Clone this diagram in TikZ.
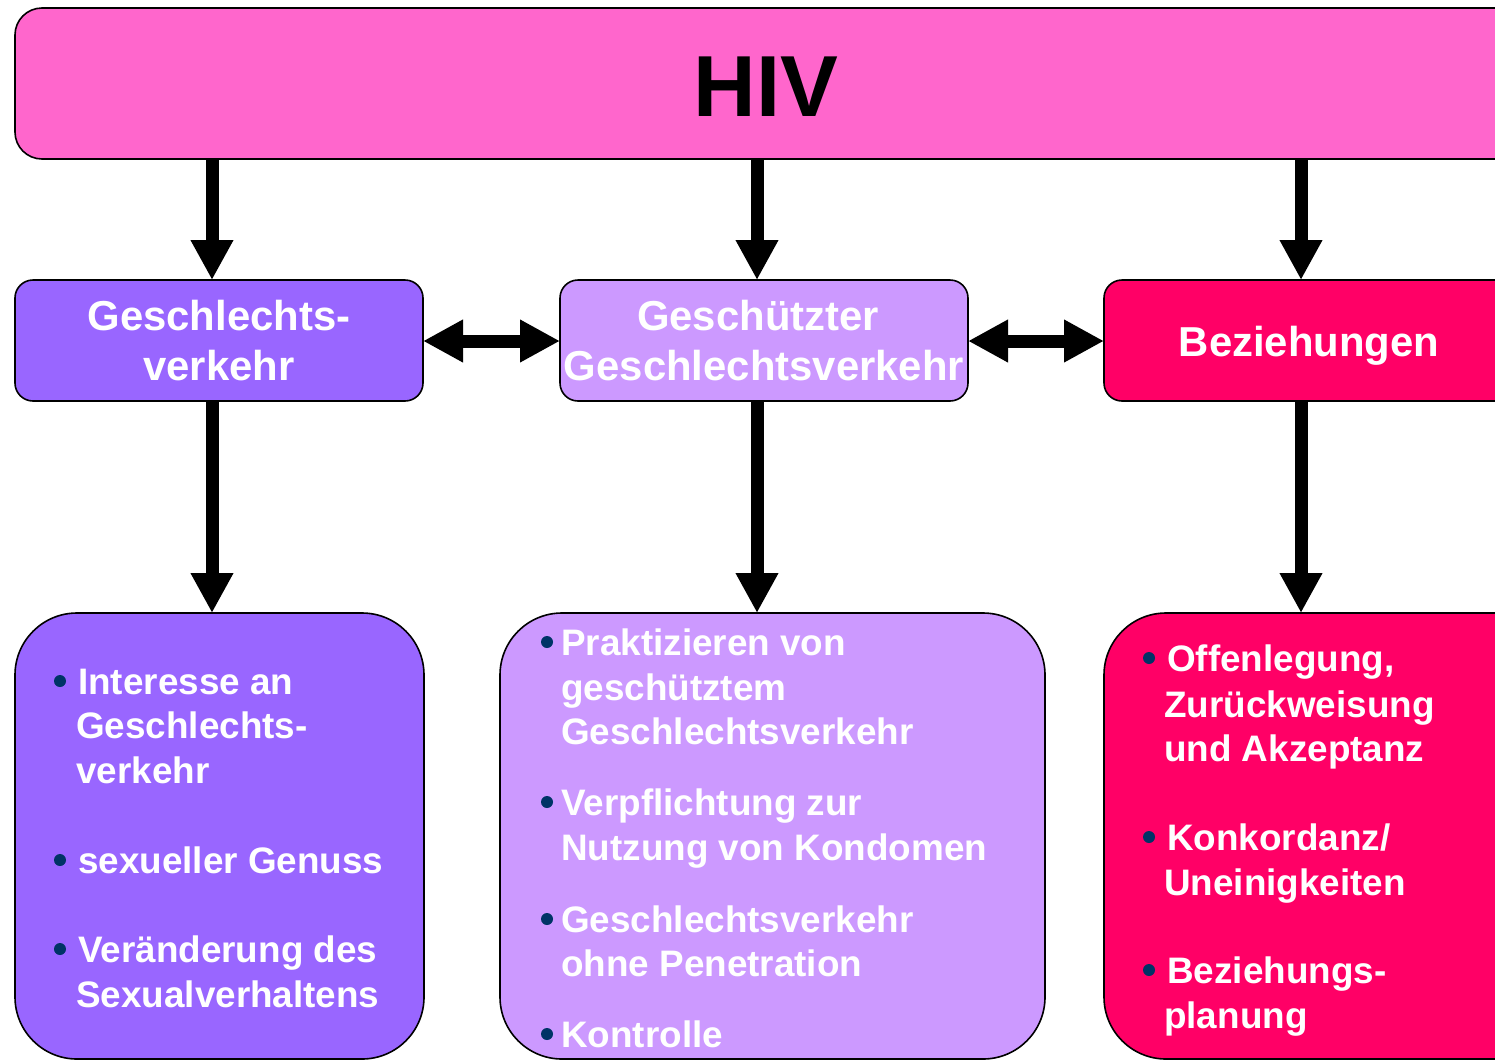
\documentclass[tikz,border=0pt]{standalone}
\usepackage{fontspec}
\setmainfont{Liberation Sans}
\usetikzlibrary{arrows.meta}
\definecolor{hivpink}{HTML}{FF66CC}
\definecolor{violet1}{HTML}{9966FF}
\definecolor{lilac}{HTML}{CC99FF}
\definecolor{rosered}{HTML}{FF0066}
\definecolor{bulletblue}{HTML}{003366}
\tikzset{
  boxframe/.style={draw=black, line width=1.6bp},
  flowarrow/.style={line width=13bp, -{Triangle[length=40bp,width=40bp]}},
  duoarrow/.style={line width=13bp, {Triangle[length=40bp,width=40bp]}-{Triangle[length=40bp,width=40bp]}},
  headtext/.style={text=white, font=\bfseries\fontsize{42}{50}\selectfont, align=center, inner sep=0pt},
  itemtext/.style={text=white, font=\bfseries\fontsize{37}{44.5}\selectfont, anchor=base west, inner sep=0pt},
  dotmark/.style={circle, fill=bulletblue, inner sep=0pt, minimum size=12bp},
}
\begin{document}
\begin{tikzpicture}[x=1bp,y=-1bp]
\useasboundingbox (0,0) rectangle (1495,1060);
\clip (0,0) rectangle (1495,1060);
% top box
\draw[boxframe, fill=hivpink, rounded corners=27bp] (15,8) rectangle (1560,159);
\node[font=\bfseries\fontsize{87}{90}\selectfont, anchor=base, inner sep=0pt] (hiv) at (766,116) {HIV};
\coordinate (hivA) at (212,159);
\coordinate (hivB) at (757,159);
\coordinate (hivC) at (1301,159);
% middle row
\draw[boxframe, fill=violet1, rounded corners=18bp] (15,280) rectangle (423,401);
\draw[boxframe, fill=lilac, rounded corners=18bp] (560,280) rectangle (968,401);
\draw[boxframe, fill=rosered, rounded corners=18bp] (1104,280) rectangle (1560,401);
\coordinate (m1t) at (212,280); \coordinate (m1b) at (212,401); \coordinate (m1r) at (423,341);
\coordinate (m2t) at (757,280); \coordinate (m2b) at (757,401); \coordinate (m2l) at (560,341); \coordinate (m2r) at (968,341);
\coordinate (m3t) at (1301,280); \coordinate (m3b) at (1301,401); \coordinate (m3l) at (1104,341);
\node[headtext, anchor=base] (t1a) at (219,330) {Geschlechts-};
\node[headtext, anchor=base] (t1b) at (219,380) {verkehr};
\node[headtext, anchor=base] (t2a) at (758,330) {Geschützter};
\node[headtext, anchor=base] (t2b) at (764,380) {Geschlechtsverkehr};
\node[headtext, anchor=base] (t3) at (1309,356) {Beziehungen};
% bottom row
\draw[boxframe, fill=violet1, rounded corners=62bp] (15,613) rectangle (424,1059);
\draw[boxframe, fill=lilac, rounded corners=62bp] (500,613) rectangle (1045,1059);
\draw[boxframe, fill=rosered, rounded corners=62bp] (1104,613) rectangle (1600,1059);
\coordinate (b1t) at (212,613); \coordinate (b2t) at (757,613); \coordinate (b3t) at (1301,613);
% arrows
\draw[flowarrow] (hivA) -- (m1t);
\draw[flowarrow] (hivB) -- (m2t);
\draw[flowarrow] (hivC) -- (m3t);
\draw[flowarrow] (m1b) -- (b1t);
\draw[flowarrow] (m2b) -- (b2t);
\draw[flowarrow] (m3b) -- (b3t);
\draw[duoarrow] (m1r) -- (m2l);
\draw[duoarrow] (m2r) -- (m3l);
% box 1 items
\node[dotmark] (d11) at (60,681) {};
\node[itemtext] (i11) at (78,694) {Interesse an};
\node[itemtext] (i12) at (76,738) {Geschlechts-};
\node[itemtext] (i13) at (76,783) {verkehr};
\node[dotmark] (d12) at (60,860) {};
\node[itemtext] (i14) at (78,873) {sexueller Genuss};
\node[dotmark] (d13) at (60,949) {};
\node[itemtext] (i15) at (78,962) {Veränderung des};
\node[itemtext] (i16) at (76,1007) {Sexualverhaltens};
% box 2 items
\node[dotmark] (d21) at (547,642) {};
\node[itemtext] (i21) at (561,655) {Praktizieren von};
\node[itemtext] (i22) at (561,700) {geschütztem};
\node[itemtext] (i23) at (561,744) {Geschlechtsverkehr};
\node[dotmark] (d22) at (547,802) {};
\node[itemtext] (i24) at (561,815) {Verpflichtung zur};
\node[itemtext] (i25) at (561,860) {Nutzung von Kondomen};
\node[dotmark] (d23) at (547,919) {};
\node[itemtext] (i26) at (561,932) {Geschlechtsverkehr};
\node[itemtext] (i27) at (561,976) {ohne Penetration};
\node[dotmark] (d24) at (547,1034) {};
\node[itemtext] (i28) at (561,1047) {Kontrolle};
% box 3 items
\node[dotmark] (d31) at (1149,658) {};
\node[itemtext] (i31) at (1167,671) {Offenlegung,};
\node[itemtext] (i32) at (1164,717) {Zurückweisung};
\node[itemtext] (i33) at (1164,761) {und Akzeptanz};
\node[dotmark] (d32) at (1149,837) {};
\node[itemtext] (i34) at (1167,850) {Konkordanz/};
\node[itemtext] (i35) at (1164,895) {Uneinigkeiten};
\node[dotmark] (d33) at (1149,970) {};
\node[itemtext] (i36) at (1167,983) {Beziehungs-};
\node[itemtext] (i37) at (1164,1028) {planung};
\end{tikzpicture}
\end{document}
